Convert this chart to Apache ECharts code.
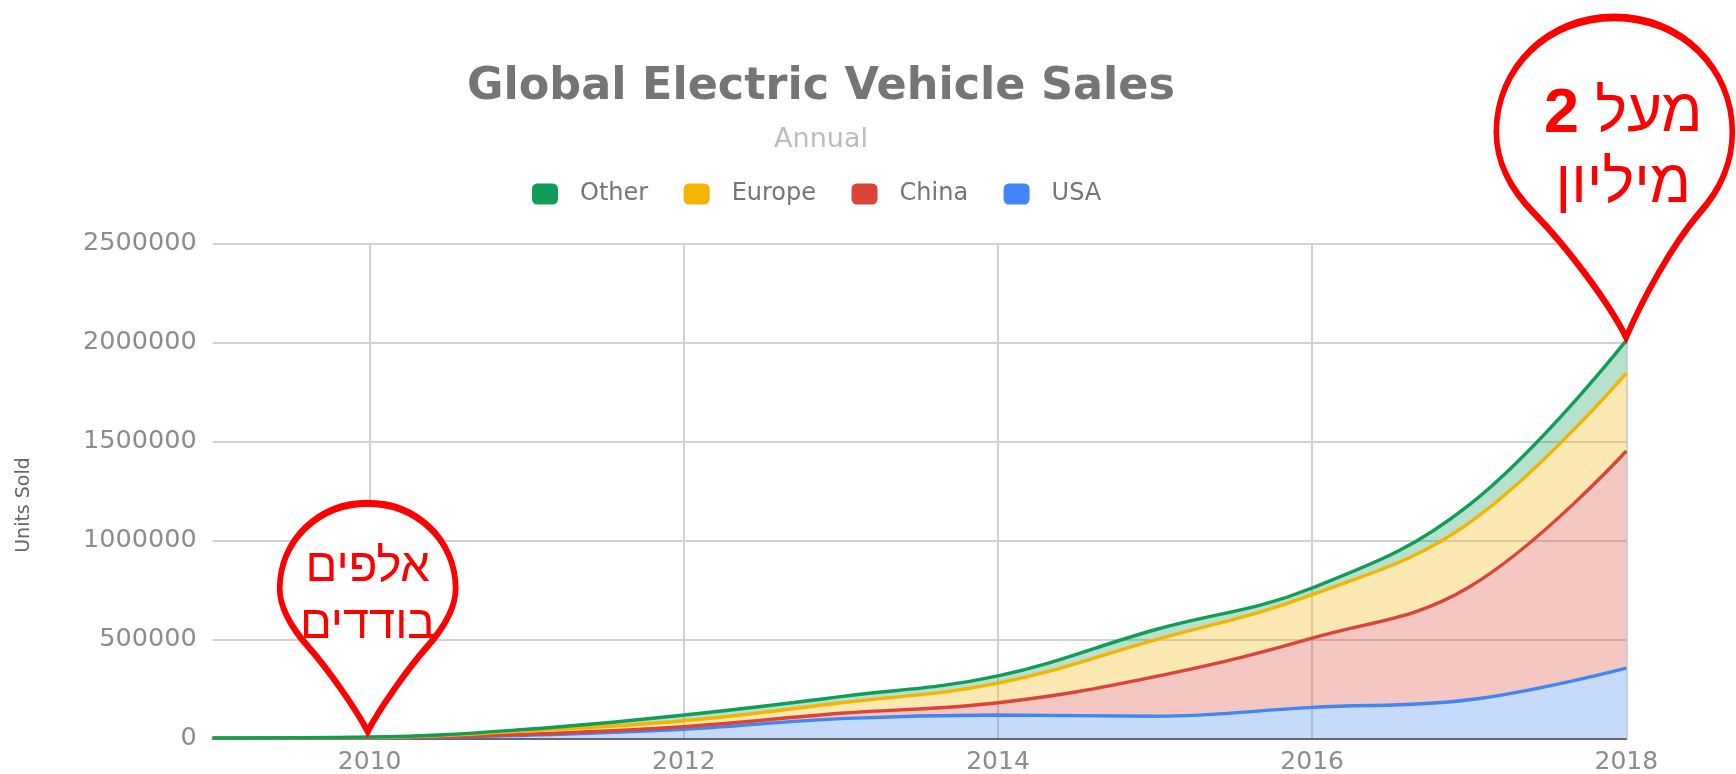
<!DOCTYPE html>
<html>
<head>
<meta charset="utf-8">
<script src="https://cdn.jsdelivr.net/npm/echarts@6/dist/echarts.min.js"></script>
<style>
html,body{margin:0;padding:0;background:#fff;}
#chart{width:1736px;height:774px;}
</style>
</head>
<body>
<div id="chart"></div>
<script>
const years  = ['2009','2010','2011','2012','2013','2014','2015','2016','2017','2018'];
const usa    = [1000, 1500, 16000, 46000, 100000, 118000, 112000, 157000, 195000, 355000];
const china  = [500, 1200, 5000, 13000, 27000, 62000, 200000, 350000, 570000, 1097000];
const europe = [300, 1500, 17000, 30000, 53000, 99000, 186000, 219000, 324000, 394000];
const other  = [200, 2500, 8000, 29000, 31000, 37000, 51000, 34000, 91000, 165000];
const legendOrder = ['Other', 'Europe', 'China', 'USA'];
const yAxisTitle = 'Units Sold';
const pin1Text = 'אלפים\nבודדים';
const pin2Bold = '2';
const pin2Line1 = 'מעל';
const pin2Line2 = 'מיליון';

const last = years.length - 1;
const total2018 = usa[last] + china[last] + europe[last] + other[last];

const FONT = 'DejaVu Sans';
const HEB = "'Liberation Sans', 'DejaVu Sans'";
const pinPath1 = 'path://M50,134 C44,122 28,98 16,84 C5,71 0,60 0,50 C0,22 22,0 50,0 C78,0 100,22 100,50 C100,60 95,71 84,84 C72,98 56,122 50,134 Z';
const pinPath2 = 'path://M55,134 C48,120 30,96 16,82 C5,71 0,60 0,48 C0,21 22,0 50,0 C78,0 100,21 100,48 C100,60 96,71 86,82 C74,96 62,118 55,134 Z';

function areaSeries(name, data, color, extra) {
  return Object.assign({
    name: name,
    type: 'line',
    stack: 'total',
    data: data,
    smooth: 0.4,
    symbol: 'none',
    showSymbol: false,
    lineStyle: { color: color, width: 3.4 },
    itemStyle: { color: color },
    areaStyle: { color: color, opacity: 0.3 }
  }, extra || {});
}

const chart = echarts.init(document.getElementById('chart'), null, { renderer: 'canvas' });
chart.setOption({
  backgroundColor: '#ffffff',
  animation: false,
  textStyle: { fontFamily: FONT },
  title: {
    text: 'Global Electric Vehicle Sales',
    subtext: 'Annual',
    left: 816,
    textAlign: 'center',
    top: 60,
    itemGap: 16,
    textStyle: { fontFamily: FONT, fontWeight: 'bold', fontSize: 44.5, color: '#757575' },
    subtextStyle: { fontFamily: FONT, fontSize: 27, color: '#bdbdbd' }
  },
  legend: {
    data: legendOrder,
    left: 527,
    top: 177,
    icon: 'roundRect',
    itemWidth: 26,
    itemHeight: 21,
    itemGap: 35.5,
    textStyle: { fontFamily: FONT, fontSize: 24, color: '#757575', padding: [0, 0, 0, 17] }
  },
  graphic: [{
    type: 'text',
    x: 24,
    y: 505,
    rotation: Math.PI / 2,
    silent: true,
    style: { text: yAxisTitle, fontFamily: FONT, fontSize: 19, fill: '#666', align: 'center', verticalAlign: 'middle' }
  }],
  grid: { left: 212.6, right: 109.7, top: 243.6, bottom: 35.6, containLabel: false, outerBoundsMode: 'none' },
  xAxis: {
    type: 'category',
    data: years,
    boundaryGap: false,
    axisLine: { show: true, lineStyle: { color: '#666', width: 2 } },
    axisTick: { show: false },
    axisLabel: {
      interval: function (i, v) { return Number(v) % 2 === 0; },
      fontSize: 25, color: '#8c8c8c', margin: 12, fontFamily: FONT
    },
    splitLine: {
      show: true,
      interval: function (i, v) { return Number(v) % 2 === 0; },
      lineStyle: { color: '#d2d2d2', width: 2 }
    }
  },
  yAxis: {
    type: 'value',
    min: 0,
    max: 2500000,
    interval: 500000,
    axisLine: { show: false },
    axisTick: { show: false },
    axisLabel: {
      fontSize: 25.5, color: '#8c8c8c', margin: 16, fontFamily: FONT,
      formatter: function (v) { return String(v); }
    },
    splitLine: { lineStyle: { color: '#d2d2d2', width: 2 } }
  },
  series: [
    areaSeries('USA', usa, '#4285f4', {
      markPoint: {
        silent: true,
        symbolKeepAspect: false,
        itemStyle: { color: '#ffffff', borderColor: '#ff0000', borderWidth: 6.5 },
        label: { show: true, position: 'inside', color: '#ff0000', fontFamily: HEB },
        data: [
          {
            coord: [years[1], 0],
            symbol: pinPath1,
            symbolSize: [176, 228],
            symbolOffset: [-2, -121],
            label: { formatter: pin1Text, fontSize: 47, lineHeight: 57, offset: [0, -21], fontFamily: HEB, color: '#ff0000' }
          },
          {
            coord: [years[last], total2018],
            symbol: pinPath2,
            symbolSize: [236, 320],
            symbolOffset: [-12, -163],
            label: {
              formatter: '{b|' + pin2Bold + '}{s| }{n|' + pin2Line1 + '}\n{n|' + pin2Line2 + '}',
              offset: [9, -27],
              rich: {
                b: { fontFamily: HEB, fontWeight: 'bold', fontSize: 63, color: '#ff0000', lineHeight: 71 },
                s: { fontFamily: HEB, fontSize: 60, color: '#ff0000', lineHeight: 71, width: 16 },
                n: { fontFamily: HEB, fontSize: 60, color: '#ff0000', lineHeight: 71 }
              }
            }
          }
        ]
      }
    }),
    areaSeries('China', china, '#db4437'),
    areaSeries('Europe', europe, '#f4b400'),
    areaSeries('Other', other, '#0f9d58')
  ]
});
</script>
</body>
</html>
